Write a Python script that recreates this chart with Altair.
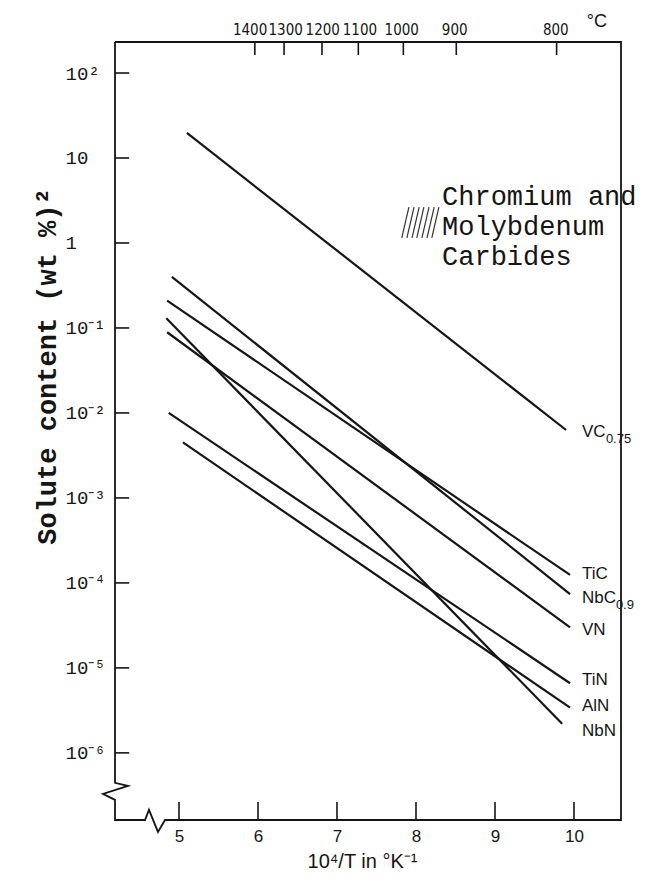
import json
import altair as alt
import pandas as pd

# ---------------- data ----------------
series  = ["VC0.75", "TiC", "NbC0.9", "VN", "TiN", "AlN", "NbN"]
x_start = [5.10, 4.85, 4.91, 4.85, 4.87, 5.05, 4.84]
y_start = [19.7, 0.21, 0.40, 0.089, 0.010, 0.0045, 0.13]
x_end   = [9.90, 9.95, 9.95, 9.95, 9.95, 9.95, 9.85]
y_end   = [6.3e-3, 1.24e-4, 7.4e-5, 3.0e-5, 6.6e-6, 3.4e-6, 2.2e-6]

label_base = ["VC", "TiC", "NbC", "VN", "TiN", "AlN", "NbN"]
label_sub  = ["0.75", "", "0.9", "", "", "", ""]
label_y    = [5.97e-3, 1.28e-4, 6.67e-5, 2.8e-5, 7.2e-6, 3.57e-6, 1.8e-6]
label_x    = 10.1

x_ticks       = [5, 6, 7, 8, 9, 10]
x_tick_labels = ["5", "6", "7", "8", "9", "10"]
y_ticks       = [1e-6, 1e-5, 1e-4, 1e-3, 1e-2, 1e-1, 1, 10, 100]
y_tick_labels = ["10⁻⁶", "10⁻⁵", "10⁻⁴", "10⁻³", "10⁻²", "10⁻¹", "\u00a01", "10", "10²"]
top_ticks       = [5.96, 6.33, 6.81, 7.27, 7.84, 8.51, 9.78]
top_label_x     = [5.90, 6.35, 6.82, 7.29, 7.82, 8.49, 9.77]
top_tick_labels = ["1400", "1300", "1200", "1100", "1000", "900", "800"]

note_lines = ["Chromium and", "Molybdenum", "Carbides"]
note_y     = [2.80, 1.24, 0.551]
note_x     = 8.33
hatch_x_bottom = [7.82, 7.885, 7.95, 8.01, 8.075, 8.14, 8.20]
hatch_x_top    = [7.91, 7.975, 8.04, 8.10, 8.165, 8.23, 8.29]
hatch_y_bottom = 1.15
hatch_y_top    = 2.65

x_min, x_max = 4.19, 10.595
y_min, y_max = 10 ** -6.79, 10 ** 2.365

# frame with axis-break zigzags (data coordinates)
frame_x = [4.19, 4.19, 4.354, 4.038, 4.19, 4.19, 4.57, 4.62, 4.734, 4.823, 10.595, 10.595, 4.19]
frame_y = [10 ** 2.365, 10 ** -6.353, 10 ** -6.388, 10 ** -6.482, 10 ** -6.553, 10 ** -6.79,
           10 ** -6.79, 10 ** -6.67, 10 ** -6.93, 10 ** -6.79, 10 ** -6.79, 10 ** 2.365, 10 ** 2.365]

ytick_x2 = 4.37
xtick_y2 = 10 ** -6.578
toptick_y1 = 10 ** 2.212
toplabel_y = 10 ** 2.51
degc_x, degc_y = 10.29, 10 ** 2.60

# ---------------- tables ----------------
lines_df = pd.DataFrame({
    "series": series + series,
    "x": x_start + x_end,
    "y": y_start + y_end,
})
labels_df = pd.DataFrame({"base": label_base, "sub": label_sub, "x": label_x, "y": label_y})
frame_df = pd.DataFrame({"x": frame_x, "y": frame_y, "o": list(range(len(frame_x)))})
ytick_df = pd.DataFrame({"x": x_min, "x2": ytick_x2, "y": y_ticks})
xtick_df = pd.DataFrame({"x": x_ticks, "y": y_min, "y2": xtick_y2})
toptick_df = pd.DataFrame({"x": top_ticks, "y": toptick_y1, "y2": y_max})
toplabel_df = pd.DataFrame({"x": top_label_x, "lbl": top_tick_labels, "y": toplabel_y})
note_df = pd.DataFrame({"t": note_lines, "x": note_x, "y": note_y})
hatch_df = pd.DataFrame({"x": hatch_x_bottom, "x2": hatch_x_top,
                         "y": hatch_y_bottom, "y2": hatch_y_top})

xs = alt.Scale(domain=[x_min, x_max], nice=False, zero=False)
ys = alt.Scale(type="log", domain=[y_min, y_max], nice=False)

INK = "#151515"

xaxis = alt.Axis(
    values=x_ticks,
    labelExpr=json.dumps(x_tick_labels, ensure_ascii=False) + "[round(datum.value) - 5]",
    ticks=False, domain=False, grid=False,
    labelFont="Liberation Sans", labelFontSize=17, labelColor=INK, labelPadding=8,
    title="10⁴/T in °K⁻¹", titleFont="Liberation Sans", titleFontSize=20,
    titleFontWeight="normal", titleColor=INK, titleY=31, titleBaseline="top",
    titleX=247, titleAlign="center",
)
yaxis = alt.Axis(
    values=y_ticks,
    labelExpr=json.dumps(y_tick_labels, ensure_ascii=False) + "[round(log(datum.value) / LN10) + 6]",
    ticks=False, domain=False, grid=False,
    labelFont="Liberation Mono", labelFontSize=19, labelColor=INK,
    labelAlign="left", labelPadding=50, labelBaseline="middle",
    title="Solute content (wt %)²", titleFont="Liberation Mono", titleFontSize=27,
    titleFontWeight="bold", titleColor=INK, titleAngle=270, titleAlign="center",
    titleBaseline="alphabetic", titleX=-60, titleY=324,
)


def X(field):
    return alt.X(field, type="quantitative", scale=xs, axis=xaxis)


def Y(field):
    return alt.Y(field, type="quantitative", scale=ys, axis=yaxis)


lines = alt.Chart(lines_df).mark_line(color=INK, strokeWidth=2.2).encode(
    x=X("x"), y=Y("y"), detail="series:N",
)

frame = alt.Chart(frame_df).mark_line(color=INK, strokeWidth=1.8).encode(
    x=X("x"), y=Y("y"), order="o:Q",
)

yticks = alt.Chart(ytick_df).mark_rule(color=INK, strokeWidth=1.6).encode(
    x=X("x"), x2="x2:Q", y=Y("y"),
)
xticks = alt.Chart(xtick_df).mark_rule(color=INK, strokeWidth=1.6).encode(
    x=X("x"), y=Y("y"), y2="y2:Q",
)
topticks = alt.Chart(toptick_df).mark_rule(color=INK, strokeWidth=1.6).encode(
    x=X("x"), y=Y("y"), y2="y2:Q",
)
toplabels = alt.Chart(toplabel_df).mark_text(
    font="Liberation Sans Narrow, DejaVu Sans Condensed, Liberation Sans", fontSize=15,
    color=INK, align="center", baseline="middle",
).encode(
    x=X("x"), y=Y("y"), text="lbl:N",
)
degc = alt.Chart(pd.DataFrame({"x": [degc_x], "y": [degc_y], "t": ["°C"]})).mark_text(
    font="Liberation Sans", fontSize=18, color=INK, align="center", baseline="middle",
).encode(
    x=X("x"), y=Y("y"), text="t:N",
)

labels = alt.Chart(labels_df).mark_text(
    font="Liberation Sans", fontSize=17, color=INK, align="left", baseline="middle",
).encode(
    x=X("x"), y=Y("y"), text="base:N",
)
sub_vc = alt.Chart(labels_df.iloc[[0]]).mark_text(
    font="Liberation Sans", fontSize=13, color=INK, align="left", baseline="middle", dx=24, dy=7,
).encode(
    x=X("x"), y=Y("y"), text="sub:N",
)
sub_nbc = alt.Chart(labels_df.iloc[[2]]).mark_text(
    font="Liberation Sans", fontSize=13, color=INK, align="left", baseline="middle", dx=34, dy=7,
).encode(
    x=X("x"), y=Y("y"), text="sub:N",
)

note = alt.Chart(note_df).mark_text(
    font="Liberation Mono", fontSize=27, color=INK, align="left", baseline="alphabetic",
).encode(
    x=X("x"), y=Y("y"), text="t:N",
)
hatch = alt.Chart(hatch_df).mark_rule(color="#333333", strokeWidth=1.2).encode(
    x=X("x"), x2="x2:Q", y=Y("y"), y2="y2:Q",
)

chart = alt.layer(
    lines, frame, yticks, xticks, topticks, toplabels, degc,
    labels, sub_vc, sub_nbc, note, hatch,
).properties(
    width=506, height=778,
    autosize=alt.AutoSizeParams(type="none"),
    padding={"left": 107, "top": 34, "right": 26, "bottom": 51},
    background="white",
).configure_view(stroke=None)

chart.save("out.html", embed_options={"renderer": "svg", "actions": False})
